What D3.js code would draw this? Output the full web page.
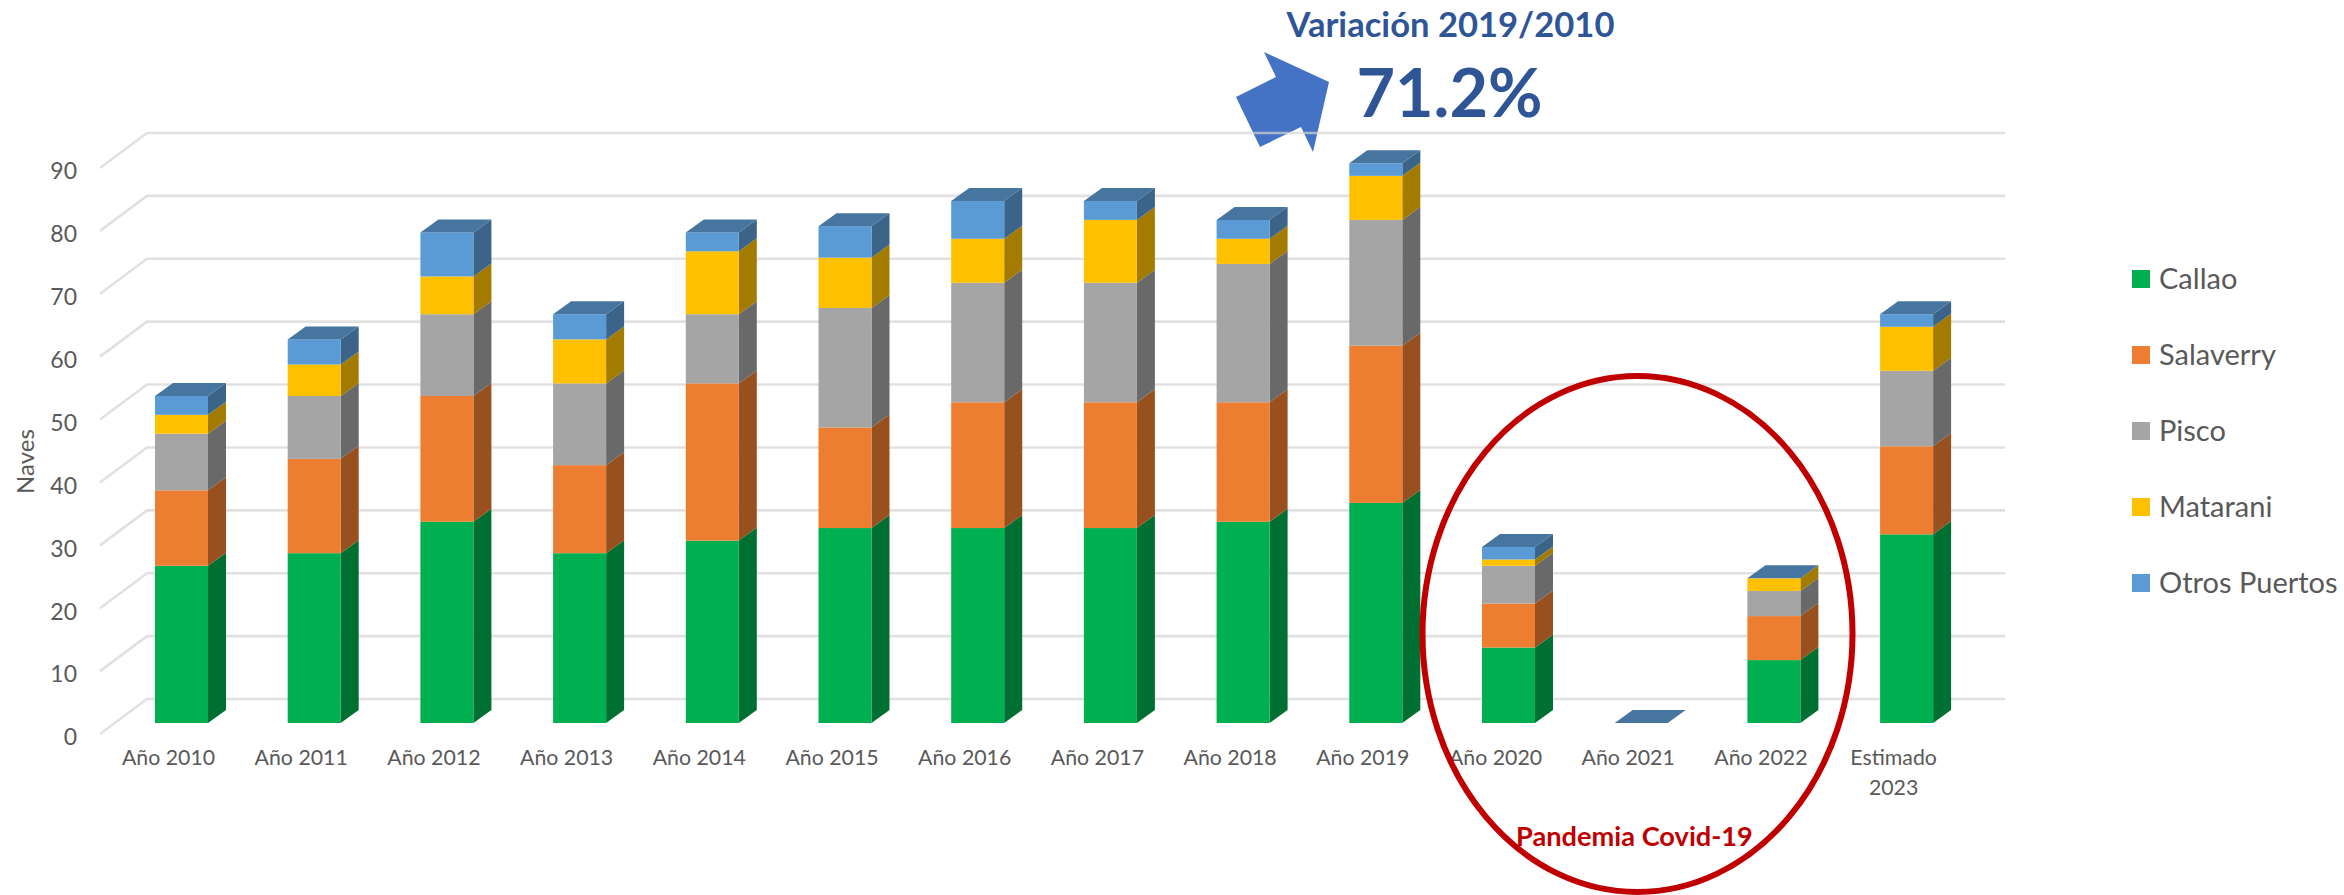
<!DOCTYPE html>
<html>
<head>
<meta charset="utf-8">
<script src="https://cdn.jsdelivr.net/npm/d3@7"></script>
<style>
  html, body { margin: 0; padding: 0; background: #fff; overflow: hidden; }
  svg { display: block; font-family: Lato, sans-serif; }
</style>
</head>
<body>
<div id="my_dataviz"></div>
<script>
var categories = ["Año 2010", "Año 2011", "Año 2012", "Año 2013", "Año 2014", "Año 2015", "Año 2016",
    "Año 2017", "Año 2018", "Año 2019", "Año 2020", "Año 2021", "Año 2022", "Estimado 2023"];
var seriesNames = ["Callao", "Salaverry", "Pisco", "Matarani", "Otros Puertos"];
var callao     = [25, 27, 32, 27, 29, 31, 31, 31, 32, 35, 12, 0, 10, 30];
var salaverry  = [12, 15, 20, 14, 25, 16, 20, 20, 19, 25,  7, 0,  7, 14];
var pisco      = [ 9, 10, 13, 13, 11, 19, 19, 19, 22, 20,  6, 0,  4, 12];
var matarani   = [ 3,  5,  6,  7, 10,  8,  7, 10,  4,  7,  1, 0,  2,  7];
var otros      = [ 3,  4,  7,  4,  3,  5,  6,  3,  3,  2,  2, 0,  0,  2];
var yTicks = [0, 10, 20, 30, 40, 50, 60, 70, 80, 90];
var frontColors = ["#00B050", "#ED7D31", "#A5A5A5", "#FFC000", "#5B9BD5"];
var sideColors = ["#006F32", "#98501F", "#696969", "#A37B00", "#3C6488"];
var topColor = "#46759F";

var width = 2344, height = 895;

// the 3D look: bars are pushed back by this much, the wall a bit more
var depthX = 18, depthY = 13;
var barWidth = 53;

var svg = d3.select("#my_dataviz").append("svg")
    .attr("width", width)
    .attr("height", height)
    .style("background-color", "#fff");

var x = d3.scalePoint().domain(categories).range([181.5, 1906.6]);
var y = d3.scaleLinear().domain([0, 90]).range([723, 157]);

var rows = categories.map(function (c, i) {
    return { cat: c, "Callao": callao[i], "Salaverry": salaverry[i], "Pisco": pisco[i],
        "Matarani": matarani[i], "Otros Puertos": otros[i] };
});
var stacked = d3.stack().keys(seriesNames)(rows);

// arrow sits under the gridlines, the 90 line shows through it
var arrow = [[1264, 52], [1329, 82], [1313, 152], [1301, 127], [1260, 147], [1236, 97], [1276, 77]];
svg.append("polygon")
    .attr("points", arrow.join(" "))
    .attr("fill", "#4472C4");

// walls
var grid = svg.append("g")
    .attr("fill", "none")
    .attr("stroke", "#D4D4D4")
    .attr("stroke-opacity", 0.7)
    .attr("stroke-width", 2.6);
yTicks.forEach(function (t) {
    var wall = y(t) - 24;
    grid.append("path")
        .attr("d", d3.line()([[100, wall + 35], [147, wall], [2005, wall]]));
});

// y axis
var yAxis = svg.append("g")
    .attr("transform", "translate(77,14.5)")
    .call(d3.axisLeft(y).tickValues(yTicks).tickSize(0).tickPadding(0));
yAxis.select(".domain").remove();
yAxis.selectAll("text")
    .attr("fill", "#595959")
    .style("font-family", "Lato, sans-serif")
    .style("font-size", "23px");

svg.append("text")
    .attr("transform", "translate(34,461.5) rotate(-90)")
    .attr("text-anchor", "middle")
    .attr("fill", "#595959")
    .style("font-size", "24px")
    .text("Naves");

// x axis
var xAxis = svg.append("g")
    .attr("transform", "translate(-13.5,750)")
    .call(d3.axisBottom(x).tickSize(0).tickPadding(0));
xAxis.select(".domain").remove();
xAxis.selectAll("text")
    .attr("fill", "#595959")
    .style("font-family", "Lato, sans-serif")
    .style("font-size", "21.3px")
    .each(function (d) {
        if (d.indexOf("Estimado") != 0) return;
        var t = d3.select(this);
        var parts = d.split(" ");
        t.text(null);
        t.append("tspan").attr("x", 0).attr("dy", "0.71em").text(parts[0]);
        t.append("tspan").attr("x", 0).attr("dy", "1.38em").text(parts[1]);
    });

// bars
var sides = function (x0, y0, y1) {
    return [[x0, y0], [x0 + depthX, y0 - depthY], [x0 + depthX, y1 - depthY], [x0, y1]];
};

stacked.forEach(function (s, k) {
    var g = svg.append("g").attr("class", "series");
    g.selectAll(".side")
        .data(s.filter(function (d) { return d[1] > d[0]; }))
        .enter().append("polygon")
        .attr("class", "side")
        .attr("fill", sideColors[k])
        .attr("points", function (d) {
            return sides(x(d.data.cat) + barWidth / 2, y(d[0]), y(d[1])).join(" ");
        });
    g.selectAll(".front")
        .data(s)
        .enter().append("rect")
        .attr("class", "front")
        .attr("x", function (d) { return x(d.data.cat) - barWidth / 2; })
        .attr("y", function (d) { return y(d[1]); })
        .attr("width", barWidth)
        .attr("height", function (d) { return y(d[0]) - y(d[1]); })
        .attr("fill", frontColors[k]);
});

// top faces, always in the colour of the last series even when it is 0
svg.append("g").selectAll("polygon")
    .data(stacked[stacked.length - 1])
    .enter().append("polygon")
    .attr("fill", topColor)
    .attr("points", function (d) {
        var l = x(d.data.cat) - barWidth / 2, t = y(d[1]);
        return [[l, t], [l + barWidth, t], [l + barWidth + depthX, t - depthY], [l + depthX, t - depthY]].join(" ");
    });

// legend
var legend = svg.append("g").selectAll("g")
    .data(seriesNames)
    .enter().append("g")
    .attr("transform", function (d, i) { return "translate(2132," + (279 + i * 76) + ")"; });
legend.append("rect")
    .attr("y", -9)
    .attr("width", 18)
    .attr("height", 18)
    .attr("fill", function (d, i) { return frontColors[i]; });
legend.append("text")
    .attr("x", 27)
    .attr("dy", "0.35em")
    .attr("fill", "#595959")
    .style("font-size", "29px")
    .text(function (d) { return d; });

// notes
svg.append("text")
    .attr("x", 1450.5)
    .attr("y", 37)
    .attr("text-anchor", "middle")
    .attr("fill", "#2F5597")
    .style("font-weight", "bold")
    .style("font-size", "34.6px")
    .text("Variación 2019/2010");
svg.append("text")
    .attr("x", 1449.5)
    .attr("y", 117)
    .attr("text-anchor", "middle")
    .attr("fill", "#2F5597")
    .style("font-weight", "bold")
    .style("font-size", "66.5px")
    .text("71.2%");

svg.append("ellipse")
    .attr("cx", 1637.5)
    .attr("cy", 634)
    .attr("rx", 215)
    .attr("ry", 258)
    .attr("fill", "none")
    .attr("stroke", "#C00000")
    .attr("stroke-width", 6);
svg.append("text")
    .attr("x", 1634.5)
    .attr("y", 846)
    .attr("text-anchor", "middle")
    .attr("fill", "#C00000")
    .style("font-weight", "bold")
    .style("font-size", "27.2px")
    .text("Pandemia Covid-19");
</script>
</body>
</html>
